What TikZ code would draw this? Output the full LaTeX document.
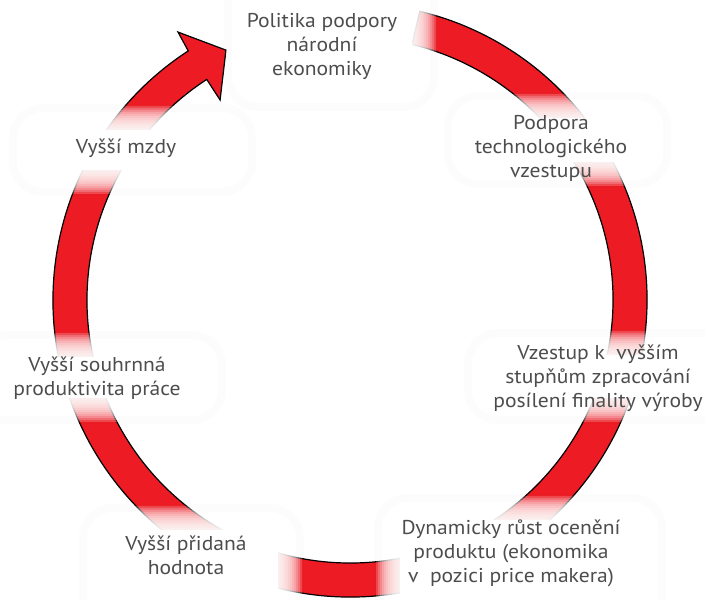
\documentclass[tikz,border=0pt]{standalone}
\usepackage{fontspec}
\setmainfont{PT Sans}[FakeStretch=1.08]
\usetikzlibrary{calc}
\definecolor{ringred}{RGB}{237,28,36}
\definecolor{txt}{RGB}{77,77,77}
\tikzset{
  ring/.style={fill=ringred, draw=black, line width=1.2pt, line join=miter},
  lbl/.style={text=txt, font=\fontsize{20}{24}\selectfont, align=center, inner sep=0pt},
  halo/.style={black, opacity=0.012, line width=8pt, rounded corners=30pt},
}
\newcommand{\softbox}[4]{%
  \draw[halo] ({#1-22},{#2-22}) rectangle ({#3+22},{#4+22});
  \foreach \k in {12,11,...,1}{
    \pgfmathsetmacro\rr{10+2*\k}
    \fill[white, opacity=0.2, rounded corners=\rr pt] ({#1-2*\k},{#2-2*\k}) rectangle ({#3+2*\k},{#4+2*\k});
  }
  \fill[white, rounded corners=10pt] (#1,#2) rectangle (#3,#4);
}
\begin{document}
\begin{tikzpicture}[x=1pt,y=1pt]
\useasboundingbox (0,0) rectangle (705,600);
\fill[white] (0,0) rectangle (705,600);
\coordinate (C) at (350,300);
% ring with arrow
\draw[ring] ($(C)+(76.4:297)$) arc[start angle=76.4, end angle=-237, radius=297pt]
  -- ($(C)+(-237.3:318.4)$) -- ($(C)+(-243.6:279)$) -- ($(C)+(-237:238.5)$) -- ($(C)+(-237:263)$)
  arc[start angle=-237, end angle=76.4, radius=263pt] -- cycle;
% soft label backgrounds
\softbox{250}{515}{412}{610}
\softbox{470}{438}{645}{482}
\softbox{35}{430}{230}{470}
\softbox{0}{202}{200}{243}
\softbox{490}{202}{710}{245}
\softbox{105}{-10}{278}{70}
\softbox{400}{-10}{640}{80}
% labels
\node[lbl] (l1) at (322,554) {Politika podpory\\národní\\ekonomiky};
\node[lbl] (l2) at (551,452) {Podpora\\technologického\\vzestupu};
\node[lbl] (l3) at (126,452) {Vyšší mzdy};
\node[lbl] (l4) at (97,222) {Vyšší souhrnná\\produktivita práce};
\node[lbl] (l5) at (598,222) {Vzestup k~ vyšším\\stupňům zpracování\\posílení finality výroby};
\node[lbl] (l6) at (186,45) {Vyšší přidaná\\hodnota};
\node[lbl] (l7) at (511,47) {Dynamicky růst ocenění\\produktu (ekonomika\\v~ pozici price makera)};
\end{tikzpicture}
\end{document}
